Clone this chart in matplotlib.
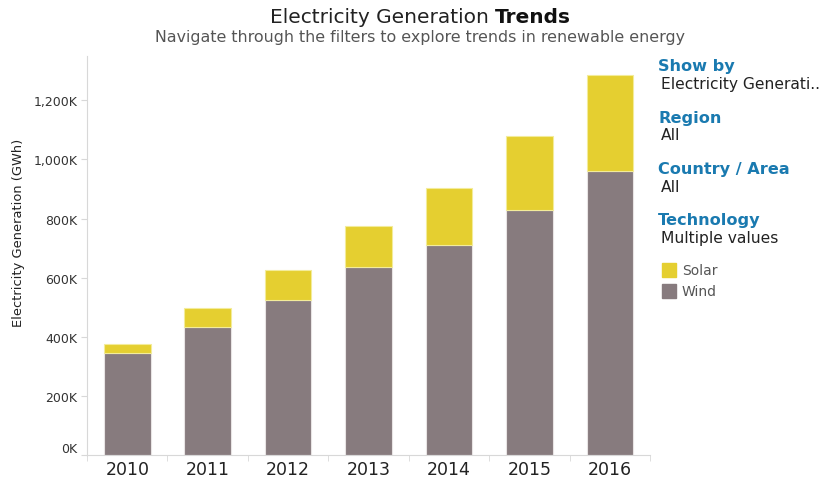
import numpy as np
import matplotlib.pyplot as plt
from matplotlib.patches import Rectangle
from matplotlib.ticker import FuncFormatter

years = ['2010', '2011', '2012', '2013', '2014', '2015', '2016']
wind = [345, 434, 525, 637, 712, 828, 960]        # thousand GWh
solar = [30, 64, 101, 136, 191, 252, 327]

wind_col = '#877b7e'
solar_col = '#e5cf30'
blue = '#1a7ab0'

plt.rcParams['font.family'] = ['DejaVu Sans']

fig = plt.figure(figsize=(8.25, 4.85), dpi=100)
ax = fig.add_axes([0.1055, 0.06, 0.6825, 0.8225])

x = np.arange(len(years))
ax.bar(x, wind, width=0.58, color=wind_col, edgecolor='#e8e4e4', linewidth=0.8)
ax.bar(x, solar, width=0.58, bottom=wind, color=solar_col, edgecolor='#f3ec9a', linewidth=0.8)

ax.set_xlim(-0.5, 6.5)
ax.set_ylim(0, 1350)
ax.set_yticks(np.arange(0, 1201, 200))
ax.yaxis.set_major_formatter(FuncFormatter(lambda v, p: f'{int(v):,}K'))
ax.set_xticks(x)
ax.set_xticklabels(years, fontsize=12.5, color='#222222')
ax.set_xticks(np.arange(-0.5, 6.6, 1), minor=True)
ax.tick_params(axis='x', which='major', length=0, pad=4)
ax.tick_params(axis='x', which='minor', length=4, color='#d8d8d8')
ax.tick_params(axis='y', length=4, color='#d8d8d8', labelsize=9, labelcolor='#333333', pad=3)
ylabs = ax.get_yticklabels()
ylabs[0].set_verticalalignment('bottom')
ax.set_ylabel('Electricity Generation (GWh)', fontsize=9.4, color='#222222')
ax.yaxis.set_label_coords(-0.111, 0.559)

for s in ['top', 'right']:
    ax.spines[s].set_visible(False)
for s in ['left', 'bottom']:
    ax.spines[s].set_color('#d8d8d8')

# title
fig.text(0.600, 0.964, 'Electricity Generation ', fontsize=14.5, color='#222222', ha='right', va='center')
fig.text(0.600, 0.964, 'Trends', fontsize=14.5, color='#111111', ha='left', va='center', fontweight='bold')
fig.text(0.509, 0.922, 'Navigate through the filters to explore trends in renewable energy',
         fontsize=11.4, color='#555555', ha='center', va='center')

# filter panel
panel = [('Show by', 'Electricity Generati..', 67),
         ('Region', 'All', 118),
         ('Country / Area', 'All', 170),
         ('Technology', 'Multiple values', 221)]
for head, val, py in panel:
    fig.text(658 / 825, 1 - py / 485, head, fontsize=11.6, color=blue, fontweight='bold', va='center')
    fig.text(661 / 825, 1 - (py + 18) / 485, val, fontsize=11.2, color='#222222', va='center')

for name, col, py in [('Solar', solar_col, 271), ('Wind', wind_col, 292)]:
    fig.patches.append(Rectangle((662 / 825, 1 - (py + 7) / 485), 14 / 825, 14 / 485,
                                 transform=fig.transFigure, color=col))
    fig.text(682 / 825, 1 - py / 485, name, fontsize=10, color='#555555', va='center')

fig.savefig('out.png', dpi=100)
